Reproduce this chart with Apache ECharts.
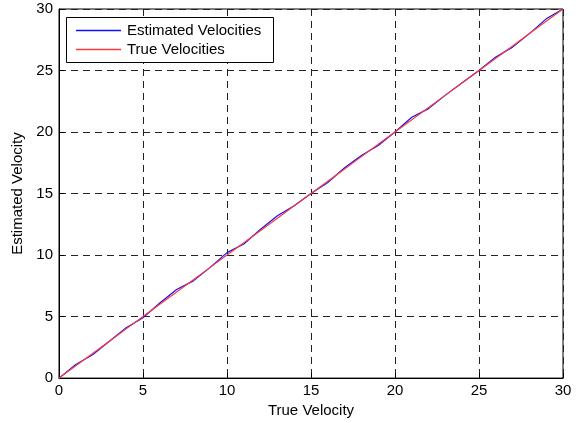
<!DOCTYPE html>
<html><head><meta charset="utf-8">
<script src="https://cdn.jsdelivr.net/npm/echarts@6/dist/echarts.min.js"></script>
<style>html,body{margin:0;padding:0;background:#fff}#c{width:579px;height:423px}</style>
</head><body><div id="c"></div>
<script>
const trueVel = [0,1,2,3,4,5,6,7,8,9,10,11,12,13,14,15,16,17,18,19,20,21,22,23,24,25,26,27,28,29,30];
const estVel = [0,1.1,1.9,3.0,4.1,4.9,6.1,7.2,7.9,9.0,10.2,10.9,12.1,13.2,14.0,15.0,15.9,17.1,18.1,18.9,20.0,21.2,21.9,23.0,24.0,25.0,26.1,26.9,28.0,29.2,30];
const xTicks = [0,5,10,15,20,25,30];
const yTicks = [0,5,10,15,20,25,30];
const seriesNames = ['Estimated Velocities','True Velocities'];
const seriesColors = ['#1010ff','#ff3838'];

const font = 'Liberation Sans, Arial, sans-serif';
const chart = echarts.init(document.getElementById('c'), null, {renderer:'canvas'});
const axisCommon = {
  type:'value', min:0, max:30, interval:5,
  axisLine:{show:true, onZero:false, lineStyle:{color:'#000', width:1}},
  axisTick:{show:true, inside:true, length:5, lineStyle:{color:'#000'}},
  splitLine:{show:true, lineStyle:{color:'#222', type:[7,5], width:1}},
  axisLabel:{color:'#000', fontSize:15, fontFamily:font},
  nameTextStyle:{color:'#000', fontSize:15, fontFamily:font}
};
const legendEls = [{
  type:'rect', left:66, top:17, z:100,
  shape:{x:0.5, y:0.5, width:207, height:45},
  style:{fill:'#fff', stroke:'#000', lineWidth:1}
}];
seriesNames.forEach((n,i)=>{
  const y = 30.5 + i*19;
  legendEls.push({type:'line', z:101, shape:{x1:76, y1:y, x2:121, y2:y}, style:{stroke:seriesColors[i], lineWidth:1.3}});
  legendEls.push({type:'text', z:101, x:127, y:y, style:{text:n, fill:'#000', font:'15px '+font, textVerticalAlign:'middle', verticalAlign:'middle'}});
});
chart.setOption({
  animation:false,
  backgroundColor:'#fff',
  grid:{left:59, top:9, width:504, height:372, show:true, borderColor:'#000', borderWidth:1, backgroundColor:'transparent'},
  graphic:{elements:legendEls},
  xAxis:Object.assign({}, axisCommon, {
    name:'True Velocity', nameLocation:'middle', nameGap:24,
    axisLabel:Object.assign({}, axisCommon.axisLabel, {margin:5})
  }),
  yAxis:Object.assign({}, axisCommon, {
    name:'Estimated Velocity', nameLocation:'middle', nameGap:32,
    axisLabel:Object.assign({}, axisCommon.axisLabel, {margin:6})
  }),
  series:[
    {name:seriesNames[0], type:'line', data:trueVel.map((x,i)=>[x, estVel[i]]), showSymbol:false, symbol:'none', lineStyle:{color:seriesColors[0], width:1.2}, itemStyle:{color:seriesColors[0]}},
    {name:seriesNames[1], type:'line', data:trueVel.map((x)=>[x, x]), showSymbol:false, symbol:'none', lineStyle:{color:seriesColors[1], width:1.2}, itemStyle:{color:seriesColors[1]}}
  ]
});
</script></body></html>
